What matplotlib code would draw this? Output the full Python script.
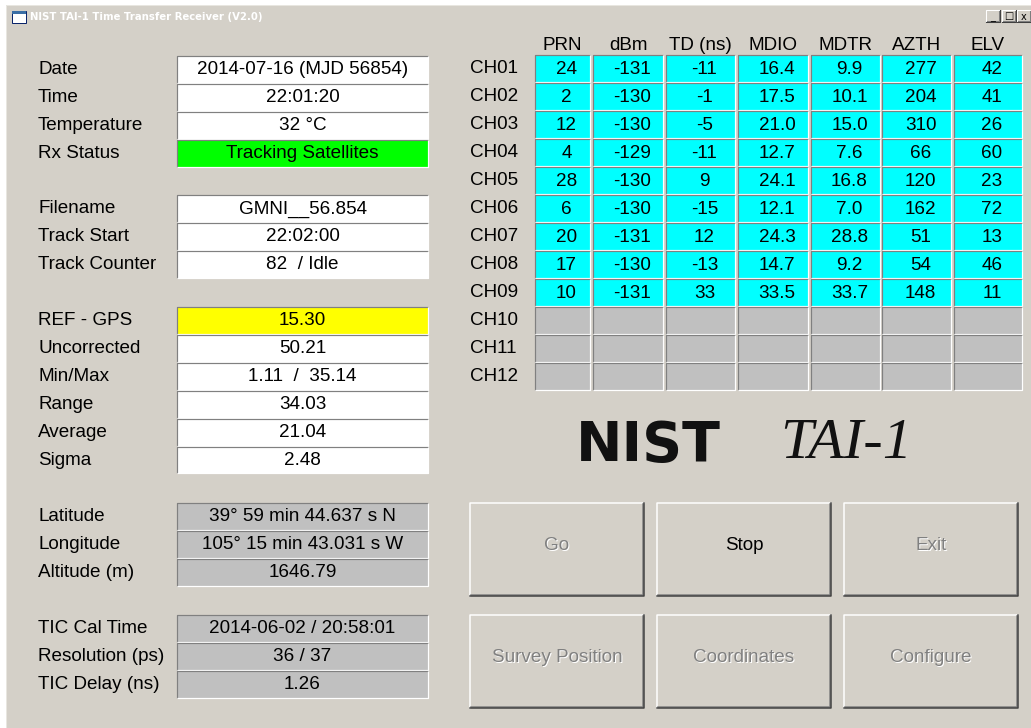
import numpy as np
import matplotlib
matplotlib.use("Agg")
import matplotlib.pyplot as plt
from matplotlib.patches import Rectangle
from matplotlib.colors import LinearSegmentedColormap

plt.rcParams["font.family"] = ["Liberation Sans", "DejaVu Sans"]

# Data

TITLE = "NIST TAI-1 Time Transfer Receiver (V2.0)"

STATUS_LABELS = ["Date", "Time", "Temperature", "Rx Status"]
STATUS_VALUES = ["2014-07-16 (MJD 56854)", "22:01:20", "32 °C", "Tracking Satellites"]

TRACK_LABELS = ["Filename", "Track Start", "Track Counter"]
TRACK_VALUES = ["GMNI__56.854", "22:02:00", "82  / Idle"]

STATS_LABELS = ["REF - GPS", "Uncorrected", "Min/Max", "Range", "Average", "Sigma"]
STATS_VALUES = ["15.30", "50.21", "1.11  /  35.14", "34.03", "21.04", "2.48"]

POS_LABELS = ["Latitude", "Longitude", "Altitude (m)"]
POS_VALUES = ["39° 59 min 44.637 s N", "105° 15 min 43.031 s W", "1646.79"]

TIC_LABELS = ["TIC Cal Time", "Resolution (ps)", "TIC Delay (ns)"]
TIC_VALUES = ["2014-06-02 / 20:58:01", "36 / 37", "1.26"]

CHANNELS = ["CH01", "CH02", "CH03", "CH04", "CH05", "CH06",
            "CH07", "CH08", "CH09", "CH10", "CH11", "CH12"]
COLUMNS = ["PRN", "dBm", "TD (ns)", "MDIO", "MDTR", "AZTH", "ELV"]
PRN = ["24", "2", "12", "4", "28", "6", "20", "17", "10"]
DBM = ["-131", "-130", "-130", "-129", "-130", "-130", "-131", "-130", "-131"]
TD_NS = ["-11", "-1", "-5", "-11", "9", "-15", "12", "-13", "33"]
MDIO = ["16.4", "17.5", "21.0", "12.7", "24.1", "12.1", "24.3", "14.7", "33.5"]
MDTR = ["9.9", "10.1", "15.0", "7.6", "16.8", "7.0", "28.8", "9.2", "33.7"]
AZTH = ["277", "204", "310", "66", "120", "162", "51", "54", "148"]
ELV = ["42", "41", "26", "60", "23", "72", "13", "46", "11"]

BUTTONS = ["Go", "Stop", "Exit", "Survey Position", "Coordinates", "Configure"]
BUTTON_ENABLED = [False, True, False, False, False, False]

# Layout / style

W, H = 1031, 728
FACE = "#D4D0C8"
FS = 13.6
ROW = 27.9

fig = plt.figure(figsize=(W / 100, H / 100), dpi=100)
fig.patch.set_facecolor("white")
ax = fig.add_axes([0, 0, 1, 1])
px = 0.72  # one pixel in points


def sunken(x0, y0, w, h, fc):
    ax.add_patch(Rectangle((x0, y0), w, h, fc=fc, ec="none"))
    ax.plot([x0, x0, x0 + w], [y0 + h, y0, y0], color="#808080", lw=1.2 * px,
            solid_capstyle="butt")
    ax.plot([x0, x0 + w, x0 + w], [y0 + h, y0 + h, y0], color="white", lw=1.2 * px,
            solid_capstyle="butt")


def raised(x0, y0, w, h, lw=1.0):
    ax.add_patch(Rectangle((x0, y0), w, h, fc=FACE, ec="none"))
    ax.plot([x0, x0, x0 + w], [y0 + h, y0, y0], color="white", lw=lw * 1.5 * px)
    ax.plot([x0 + 1, x0 + w - 1, x0 + w - 1], [y0 + h - 1, y0 + h - 1, y0 + 1],
            color="#808080", lw=lw * 1.5 * px)
    ax.plot([x0, x0 + w, x0 + w], [y0 + h, y0 + h, y0], color="#404040", lw=lw * 1.5 * px)


# window body
ax.add_patch(Rectangle((6, 5), W - 6, H - 5, fc=FACE, ec="none"))
ax.plot([6, 6, W], [H, 5, 5], color="#E8E6E0", lw=px)

# title bar gradient
cmap = LinearSegmentedColormap.from_list("tb", ["#0A246A", "#A6CAF0"])
ax.imshow(np.linspace(0, 1, 512)[None, :], extent=[8, W, 26, 8], cmap=cmap,
          aspect="auto", interpolation="bilinear")
ax.add_patch(Rectangle((12, 11), 14, 12, fc="white", ec="#0A246A", lw=px))
ax.add_patch(Rectangle((12, 11), 14, 3, fc="#3A6EA5", ec="none"))
ax.text(30, 17.5, TITLE, color="white", fontsize=7.3, fontweight="bold",
        family=["DejaVu Sans"], ha="left", va="center")
for i, glyph in enumerate(["_", "\u25A1", "x"]):
    bx = 986 + i * 15.5
    raised(bx, 10, 14, 12, lw=0.7)
    ax.text(bx + 7, 16.5, glyph, fontsize=7, ha="center", va="center",
            color="black", family=["DejaVu Sans"])

# left column groups
LX, BX, BW = 38, 177, 251
groups = [
    (56, STATUS_LABELS, STATUS_VALUES, ["white", "white", "white", "#00FF00"]),
    (195, TRACK_LABELS, TRACK_VALUES, ["white"] * 3),
    (307, STATS_LABELS, STATS_VALUES, ["#FFFF00"] + ["white"] * 5),
    (503, POS_LABELS, POS_VALUES, ["#C0C0C0"] * 3),
    (615, TIC_LABELS, TIC_VALUES, ["#C0C0C0"] * 3),
]
for top, labels, values, colors in groups:
    for i, (lab, val, c) in enumerate(zip(labels, values, colors)):
        y0 = top + i * ROW
        sunken(BX, y0, BW, ROW - 1, c)
        yc = y0 + ROW / 2
        ax.text(LX, yc, lab, fontsize=FS, ha="left", va="center", color="black")
        ax.text(BX + BW / 2, yc, val, fontsize=FS, ha="center", va="center",
                color="black")

# channel table
col_left = [535, 593, 666, 738, 811, 882, 954]
col_right = [590, 663, 735, 808, 880, 951, 1022]
table_cols = [PRN, DBM, TD_NS, MDIO, MDTR, AZTH, ELV]
TY = 55
for j, name in enumerate(COLUMNS):
    ax.text((col_left[j] + col_right[j]) / 2, 45.5, name, fontsize=FS,
            ha="center", va="center")
for i, ch in enumerate(CHANNELS):
    y0 = TY + i * 28.0
    ax.text(470, y0 + 13.5, ch, fontsize=FS, ha="left", va="center")
    for j in range(len(COLUMNS)):
        active = i < len(PRN)
        sunken(col_left[j], y0, col_right[j] - col_left[j], 27,
               "#00FFFF" if active else "#C0C0C0")
        if active:
            ax.text((col_left[j] + col_right[j]) / 2 + 4, y0 + 14,
                    table_cols[j][i], fontsize=FS, ha="center", va="center")

# logo
ax.text(576, 446, "NIST", fontsize=40, fontweight="black", ha="left",
        va="center", family=["DejaVu Sans"], color="#111111")
ax.text(780, 444, "TAI-1", fontsize=42, style="italic", ha="left",
        va="center", family=["Liberation Serif"], color="#111111")

# buttons
bx_left = [470, 657, 844]
by_top = [503, 615]
for k, (lab, on) in enumerate(zip(BUTTONS, BUTTON_ENABLED)):
    x0 = bx_left[k % 3]
    y0 = by_top[k // 3]
    raised(x0, y0, 174, 93)
    cx, cy = x0 + 87, y0 + 42.5
    if on:
        ax.text(cx, cy, lab, fontsize=FS, ha="center", va="center", color="black")
    else:
        ax.text(cx + 1, cy + 1, lab, fontsize=FS, ha="center", va="center",
                color="white")
        ax.text(cx, cy, lab, fontsize=FS, ha="center", va="center",
                color="#808080")

ax.set_xlim(0, W)
ax.set_ylim(H, 0)
ax.axis("off")

fig.savefig("out.png", dpi=100, facecolor="white")
